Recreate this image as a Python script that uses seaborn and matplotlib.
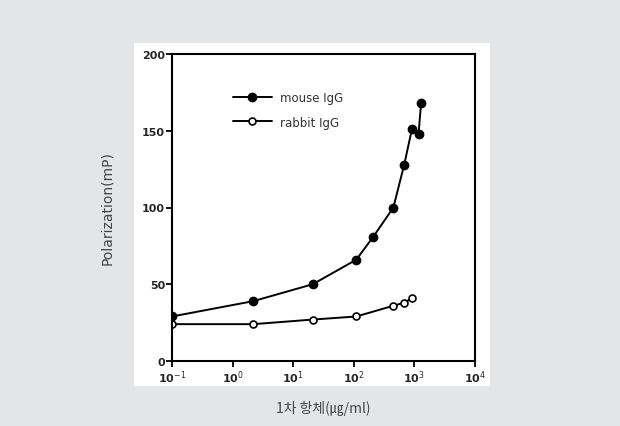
import matplotlib
matplotlib.use("Agg")
import matplotlib.pyplot as plt
import matplotlib.patches as mpatches
import numpy as np
import pandas as pd
import seaborn as sns

# concentrations (ug/ml) and polarization values
mouse_conc = [0.1, 2.2, 21, 110, 210, 450, 680, 910, 1170, 1290]
mouse_mp = [29, 39, 50, 66, 81, 100, 128, 151, 148, 168]
rabbit_conc = [0.1, 2.2, 21, 110, 450, 680, 930]
rabbit_mp = [24, 24, 27, 29, 36, 38, 41]

x_ticks = [0.1, 1, 10, 100, 1000, 10000]
x_tick_labels = ["10$^{-1}$", "10$^{0}$", "10$^{1}$", "10$^{2}$", "10$^{3}$", "10$^{4}$"]
y_ticks = [0, 50, 100, 150, 200]

df = pd.concat(
    [
        pd.DataFrame({"conc": mouse_conc, "mp": mouse_mp, "series": "mouse IgG"}),
        pd.DataFrame({"conc": rabbit_conc, "mp": rabbit_mp, "series": "rabbit IgG"}),
    ],
    ignore_index=True,
)

sns.set_style("white")
plt.rcParams["font.family"] = ["DejaVu Sans"]

bg = "#e4e5e7"
fig = plt.figure(figsize=(6.2, 4.27), dpi=100, facecolor=bg)
# white panel behind the plot
fig.patches.append(mpatches.Rectangle((134 / 620, 1 - 387 / 427), (490 - 134) / 620, (387 - 44) / 427,
                                      transform=fig.transFigure, facecolor="white", edgecolor="none", zorder=-5))
ax = fig.add_axes([172 / 620, 1 - 362 / 427, (475 - 172) / 620, (362 - 55) / 427])
ax.set_zorder(2)
ax.set_facecolor("white")

styles = {"mouse IgG": dict(mfc="black", ms=5.8), "rabbit IgG": dict(mfc="white", ms=5.0)}
for name, sub in df.groupby("series", sort=False):
    sns.lineplot(data=sub, x="conc", y="mp", sort=False, ax=ax, color="black", linewidth=1.4,
                 marker="o", markerfacecolor=styles[name]["mfc"],
                 markeredgecolor="black", markeredgewidth=1.2,
                 markersize=styles[name]["ms"], label=name)

ax.set_xscale("log")
ax.set_xlim(0.1, 10000)
ax.set_ylim(0, 200)
ax.set_xticks(x_ticks)
ax.set_xticklabels(x_tick_labels, fontsize=8, fontweight="bold")
ax.minorticks_off()
ax.set_yticks(y_ticks)
ax.set_yticklabels([str(v) for v in y_ticks], fontsize=8, fontweight="bold")
ax.tick_params(axis="both", direction="out", length=4, width=1.3, color="black", pad=1,
               bottom=True, left=True)
for spine in ax.spines.values():
    spine.set_linewidth(1.5)
    spine.set_color("black")

ax.set_xlabel("1차 항체(㎍/ml)", family=["Noto Sans CJK KR", "DejaVu Sans"], fontsize=10, color="#444444",
              fontweight="light", labelpad=11)
ax.set_ylabel("Polarization(mP)", fontsize=10, color="#444444", labelpad=20)

leg = ax.legend(loc="upper left", bbox_to_anchor=(0.165, 0.915), frameon=False, fontsize=8.5,
                handlelength=3.3, handletextpad=0.7, labelspacing=1.0)
for t in leg.get_texts():
    t.set_color("#333333")

fig.savefig("out.png", dpi=100, facecolor=bg)
